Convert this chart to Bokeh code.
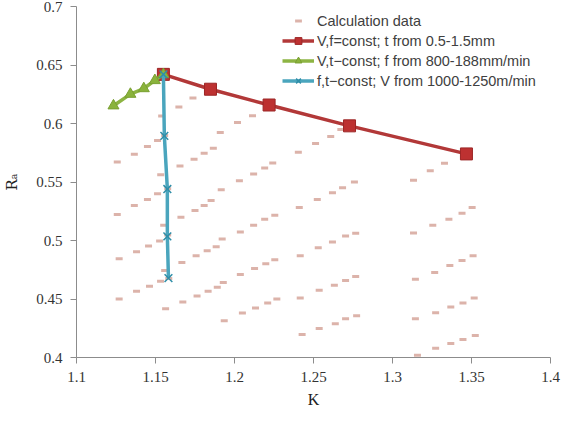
from bokeh.plotting import figure
from bokeh.models import (FixedTicker, NumeralTickFormatter, Legend, LegendItem, Range1d)
from bokeh.embed import file_html
from bokeh.resources import INLINE

# ---- data -----------------------------------------------------------------
calc_k = [
    # group 1
    1.1258, 1.1366, 1.1449, 1.1513, 1.1558,
    1.1258, 1.1366, 1.1449, 1.1513, 1.1577,
    1.1270, 1.1380, 1.1456, 1.1526, 1.1577,
    1.1270, 1.1380, 1.1462, 1.1532, 1.1584,
    # group 2
    1.1539, 1.1648, 1.1737,
    1.1533, 1.1655, 1.1744, 1.1808, 1.1866,
    1.1552, 1.1661, 1.1750, 1.1808, 1.1852,
    1.1558, 1.1667, 1.1757, 1.1827, 1.1884,
    1.1564, 1.1673, 1.1763, 1.1833, 1.1891,
    # group 3
    1.1910, 1.2019, 1.2114,
    1.1916, 1.2031, 1.2121, 1.2191, 1.2242,
    1.1922, 1.2037, 1.2121, 1.2191, 1.2255,
    1.1929, 1.2037, 1.2127, 1.2198, 1.2255,
    1.1935, 1.2050, 1.2133, 1.2210, 1.2268,
    # group 4
    1.2404, 1.2513, 1.2609, 1.2673,
    1.2410, 1.2524, 1.2620, 1.2684, 1.2759,
    1.2416, 1.2530, 1.2620, 1.2703, 1.2767,
    1.2416, 1.2536, 1.2632, 1.2703, 1.2767,
    1.2428, 1.2536, 1.2638, 1.2703, 1.2773,
    # group 5
    1.3133, 1.3239, 1.3329,
    1.3133, 1.3255, 1.3357, 1.3440, 1.3504,
    1.3145, 1.3267, 1.3363, 1.3440, 1.3510,
    1.3145, 1.3273, 1.3369, 1.3446, 1.3517,
    1.3158, 1.3273, 1.3369, 1.3446, 1.3524,
]
calc_r = [
    0.5670, 0.5737, 0.5804, 0.5855, 0.5897,
    0.5223, 0.5300, 0.5350, 0.5400, 0.5443,
    0.4845, 0.4904, 0.4954, 0.4996, 0.5047,
    0.4500, 0.4567, 0.4609, 0.4651, 0.4676,
    0.6065, 0.6141, 0.6217,
    0.5561, 0.5636, 0.5695, 0.5746, 0.5788,
    0.5131, 0.5198, 0.5257, 0.5299, 0.5341,
    0.4744, 0.4812, 0.4870, 0.4912, 0.4946,
    0.4416, 0.4474, 0.4525, 0.4567, 0.4601,
    0.5924, 0.6008, 0.6067,
    0.5434, 0.5510, 0.5569, 0.5619, 0.5662,
    0.5013, 0.5072, 0.5131, 0.5181, 0.5215,
    0.4642, 0.4710, 0.4760, 0.4802, 0.4836,
    0.4314, 0.4381, 0.4424, 0.4466, 0.4500,
    0.5754, 0.5830, 0.5889, 0.5948,
    0.5283, 0.5350, 0.5409, 0.5451, 0.5501,
    0.4870, 0.4937, 0.4988, 0.5038, 0.5063,
    0.4508, 0.4575, 0.4617, 0.4659, 0.4693,
    0.4196, 0.4247, 0.4289, 0.4331, 0.4356,
    0.5516, 0.5596, 0.5660,
    0.5064, 0.5131, 0.5182, 0.5232, 0.5283,
    0.4668, 0.4727, 0.4786, 0.4828, 0.4870,
    0.4331, 0.4382, 0.4432, 0.4466, 0.4508,
    0.4019, 0.4078, 0.4120, 0.4154, 0.4188,
]

t_var_k = [1.1550, 1.1848, 1.2219, 1.2728, 1.3468]
t_var_r = [0.6420, 0.6293, 0.6158, 0.5980, 0.5740]

f_var_k = [1.1234, 1.1341, 1.1426, 1.1496, 1.1550]
f_var_r = [0.6152, 0.6251, 0.6299, 0.6368, 0.6420]

v_var_k = [1.1550, 1.1556, 1.1575, 1.1575, 1.1582]
v_var_r = [0.6420, 0.5894, 0.5440, 0.5035, 0.4679]

x_ticks = [1.1, 1.15, 1.2, 1.25, 1.3, 1.35, 1.4]
y_ticks = [0.4, 0.45, 0.5, 0.55, 0.6, 0.65, 0.7]

labels = [
    "Calculation data",
    "V,f=const; t from 0.5-1.5mm",
    "V,t\u2212const; f from 800-188mm/min",
    "f,t\u2212const; V from 1000-1250m/min",
]

# ---- figure ---------------------------------------------------------------
p = figure(width=563, height=411, x_range=Range1d(1.1, 1.4), y_range=Range1d(0.4, 0.7),
           output_backend="svg", toolbar_location=None,
           min_border_left=75, min_border_right=13, min_border_top=6, min_border_bottom=54)
p.outline_line_color = None
p.xgrid.visible = False
p.ygrid.visible = False
p.background_fill_color = "white"
p.border_fill_color = "white"

calc = p.scatter(calc_k, calc_r, marker="dash", size=7, line_width=3, line_color="#dcb3aa")

red_line = p.line(t_var_k, t_var_r, line_color="#b23838", line_width=3.5)
red_pts = p.scatter(t_var_k, t_var_r, marker="square", size=12,
                    fill_color="#bd3131", line_color="#9c2626", line_width=1)

green_line = p.line(f_var_k, f_var_r, line_color="#8db443", line_width=3.5)
green_pts = p.scatter(f_var_k, f_var_r, marker="triangle", size=11,
                      fill_color="#8ab33c", line_color="#7aa032", line_width=1)

blue_line = p.line(v_var_k, v_var_r, line_color="#4aa5bd", line_width=3.5)
blue_pts = p.scatter(v_var_k, v_var_r, marker="x", size=11,
                     line_color="#2f8ea8", line_width=1.5)

legend = Legend(items=[
    LegendItem(label=labels[0], renderers=[calc]),
    LegendItem(label=labels[1], renderers=[red_line, red_pts]),
    LegendItem(label=labels[2], renderers=[green_line, green_pts]),
    LegendItem(label=labels[3], renderers=[blue_line, blue_pts]),
], location=(206, 268))
legend.border_line_color = None
legend.background_fill_alpha = 0
legend.padding = 0
legend.margin = 0
legend.spacing = 3
legend.glyph_width = 32
legend.glyph_height = 17
legend.label_height = 17
legend.label_standoff = 3
legend.label_text_font = "Liberation Sans"
legend.label_text_font_size = "14.5px"
legend.label_text_color = "#404040"
p.add_layout(legend, "center")

for ax in (p.xaxis[0], p.yaxis[0]):
    ax.axis_line_color = "#8c8c8c"
    ax.major_tick_line_color = "#8c8c8c"
    ax.major_tick_out = 6
    ax.major_tick_in = 0
    ax.minor_tick_line_color = None
    ax.major_label_text_font = "Liberation Serif"
    ax.major_label_text_font_size = "15px"
    ax.major_label_text_color = "#333333"
    ax.axis_label_text_font = "Liberation Serif"
    ax.axis_label_text_font_size = "16px"
    ax.axis_label_text_font_style = "normal"
    ax.axis_label_text_color = "#222222"
    ax.formatter = NumeralTickFormatter(format="0.[00]")

p.xaxis[0].ticker = FixedTicker(ticks=x_ticks)
p.yaxis[0].ticker = FixedTicker(ticks=y_ticks)
p.xaxis[0].axis_label = "K"
p.yaxis[0].axis_label = "R\u2090"
p.yaxis[0].axis_label_text_font = "DejaVu Serif"
p.yaxis[0].axis_label_text_font_size = "15px"
p.xaxis[0].major_label_standoff = 8
p.yaxis[0].major_label_standoff = 8
p.xaxis[0].axis_label_standoff = 6
p.yaxis[0].axis_label_standoff = 12

open("out.html", "w").write(file_html(p, INLINE))
